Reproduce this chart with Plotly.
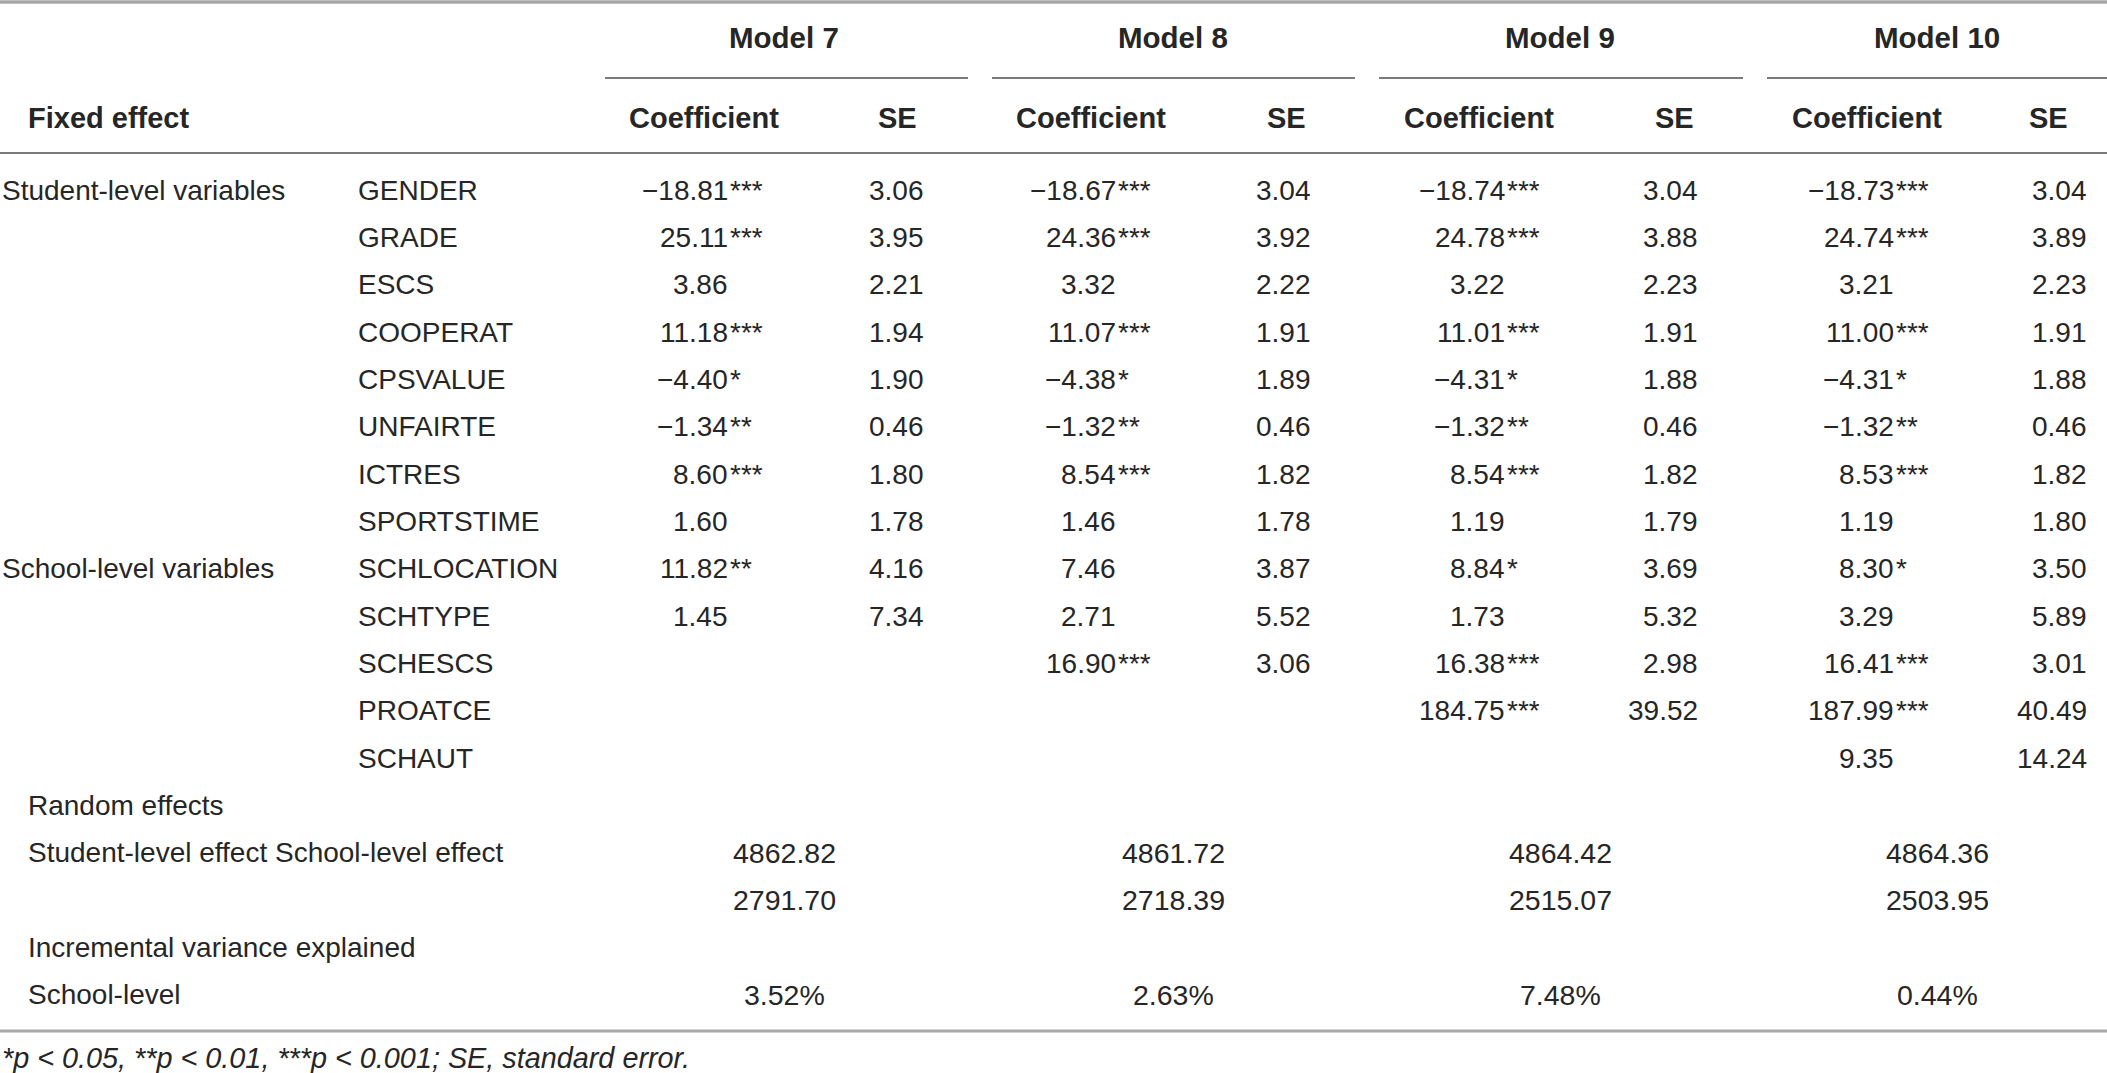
import plotly.graph_objects as go

# ---------------- data ----------------
models = ["Model 7", "Model 8", "Model 9", "Model 10"]
variables = ["GENDER", "GRADE", "ESCS", "COOPERAT", "CPSVALUE", "UNFAIRTE", "ICTRES",
             "SPORTSTIME", "SCHLOCATION", "SCHTYPE", "SCHESCS", "PROATCE", "SCHAUT"]
groups = {0: "Student-level variables", 8: "School-level variables"}

m7_coef = [-18.81, 25.11, 3.86, 11.18, -4.40, -1.34, 8.60, 1.60, 11.82, 1.45, None, None, None]
m7_sig = ["***", "***", "", "***", "*", "**", "***", "", "**", "", "", "", ""]
m7_se = [3.06, 3.95, 2.21, 1.94, 1.90, 0.46, 1.80, 1.78, 4.16, 7.34, None, None, None]

m8_coef = [-18.67, 24.36, 3.32, 11.07, -4.38, -1.32, 8.54, 1.46, 7.46, 2.71, 16.90, None, None]
m8_sig = ["***", "***", "", "***", "*", "**", "***", "", "", "", "***", "", ""]
m8_se = [3.04, 3.92, 2.22, 1.91, 1.89, 0.46, 1.82, 1.78, 3.87, 5.52, 3.06, None, None]

m9_coef = [-18.74, 24.78, 3.22, 11.01, -4.31, -1.32, 8.54, 1.19, 8.84, 1.73, 16.38, 184.75, None]
m9_sig = ["***", "***", "", "***", "*", "**", "***", "", "*", "", "***", "***", ""]
m9_se = [3.04, 3.88, 2.23, 1.91, 1.88, 0.46, 1.82, 1.79, 3.69, 5.32, 2.98, 39.52, None]

m10_coef = [-18.73, 24.74, 3.21, 11.00, -4.31, -1.32, 8.53, 1.19, 8.30, 3.29, 16.41, 187.99, 9.35]
m10_sig = ["***", "***", "", "***", "*", "**", "***", "", "*", "", "***", "***", ""]
m10_se = [3.04, 3.89, 2.23, 1.91, 1.88, 0.46, 1.82, 1.80, 3.50, 5.89, 3.01, 40.49, 14.24]

student_effect = [4862.82, 4861.72, 4864.42, 4864.36]
school_effect = [2791.70, 2718.39, 2515.07, 2503.95]
incremental = [3.52, 2.63, 7.48, 0.44]

footnote = "*p &lt; 0.05, **p &lt; 0.01, ***p &lt; 0.001; SE, standard error."

coefs = [m7_coef, m8_coef, m9_coef, m10_coef]
sigs = [m7_sig, m8_sig, m9_sig, m10_sig]
ses = [m7_se, m8_se, m9_se, m10_se]

# ---------------- layout / style ----------------
W, H = 2107, 1073
FONT = "Liberation Sans, Arial, Helvetica, sans-serif"
TXT = "#262626"
FS = 28
model_center = [784, 1173, 1560, 1937]
underline = [(605, 968), (992, 1355), (1379, 1743), (1767, 2107)]
coef_hdr = [704, 1091, 1479, 1867]
se_hdr = [897, 1286, 1674, 2048]
coef_right = [730, 1118, 1507, 1896]
se_right = [926, 1313, 1700, 2089]
y_model = 37
y_sub = 118
y0 = 190
step = 47.35


def fmt(v):
    s = f"{abs(v):.2f}"
    return ("\u2212" + s) if v < 0 else s


fig = go.Figure()
fig.add_trace(go.Scatter(x=[0, W], y=[0, H], mode="markers",
                         marker=dict(opacity=0), hoverinfo="skip", showlegend=False))


def txt(x, y, t, anchor="left", bold=False, italic=False, size=FS):
    if bold:
        t = f"<b>{t}</b>"
    if italic:
        t = f"<i>{t}</i>"
    fig.add_annotation(x=x, y=y, text=t, showarrow=False, xanchor=anchor,
                       yanchor="middle", xref="x", yref="y",
                       font=dict(family=FONT, size=size, color=TXT))


def hline(x0, x1, y, w, c):
    fig.add_shape(type="line", x0=x0, x1=x1, y0=y, y1=y, xref="x", yref="y",
                  line=dict(color=c, width=w))


# rules
hline(0, W, 2, 3.5, "#a8a8a8")
for a, b in underline:
    hline(a, b, 78, 2, "#7a7a7a")
hline(0, W, 153, 2, "#7a7a7a")
hline(0, W, 1031, 3, "#a8a8a8")

# header
for i, m in enumerate(models):
    txt(model_center[i], y_model, m, "center", bold=True, size=29.5)
    txt(coef_hdr[i], y_sub, "Coefficient", "center", bold=True, size=29)
    txt(se_hdr[i], y_sub, "SE", "center", bold=True, size=29)
txt(26, y_sub, "Fixed effect", "left", bold=True, size=29)

# body: fixed effects
for r, var in enumerate(variables):
    y = y0 + r * step
    if r in groups:
        txt(0, y, groups[r], "left")
    txt(356, y, var, "left")
    for m in range(4):
        c = coefs[m][r]
        if c is not None:
            txt(coef_right[m], y, fmt(c), "right")
            if sigs[m][r]:
                txt(coef_right[m] - 2, y, sigs[m][r], "left")
        s = ses[m][r]
        if s is not None:
            txt(se_right[m], y, fmt(s), "right")

# random effects
r = len(variables)
txt(26, y0 + r * step, "Random effects")
txt(26, y0 + (r + 1) * step, "Student-level effect School-level effect")
for m in range(4):
    txt(model_center[m], y0 + (r + 1) * step, f"{student_effect[m]:.2f}", "center", size=28.5)
    txt(model_center[m], y0 + (r + 2) * step, f"{school_effect[m]:.2f}", "center", size=28.5)
txt(26, y0 + (r + 3) * step, "Incremental variance explained")
txt(26, y0 + (r + 4) * step, "School-level")
for m in range(4):
    txt(model_center[m], y0 + (r + 4) * step, f"{incremental[m]:.2f}%", "center", size=28.5)

# footnote
txt(0, 1058, footnote, "left", italic=True, size=28.8)

fig.update_layout(
    width=W, height=H, margin=dict(l=0, r=0, t=0, b=0),
    paper_bgcolor="white", plot_bgcolor="white", showlegend=False,
    xaxis=dict(range=[0, W], visible=False, fixedrange=True),
    yaxis=dict(range=[H, 0], visible=False, fixedrange=True),
)
fig.write_html("out.html", config={"displayModeBar": False},
               post_script="document.body.style.margin='0';")
